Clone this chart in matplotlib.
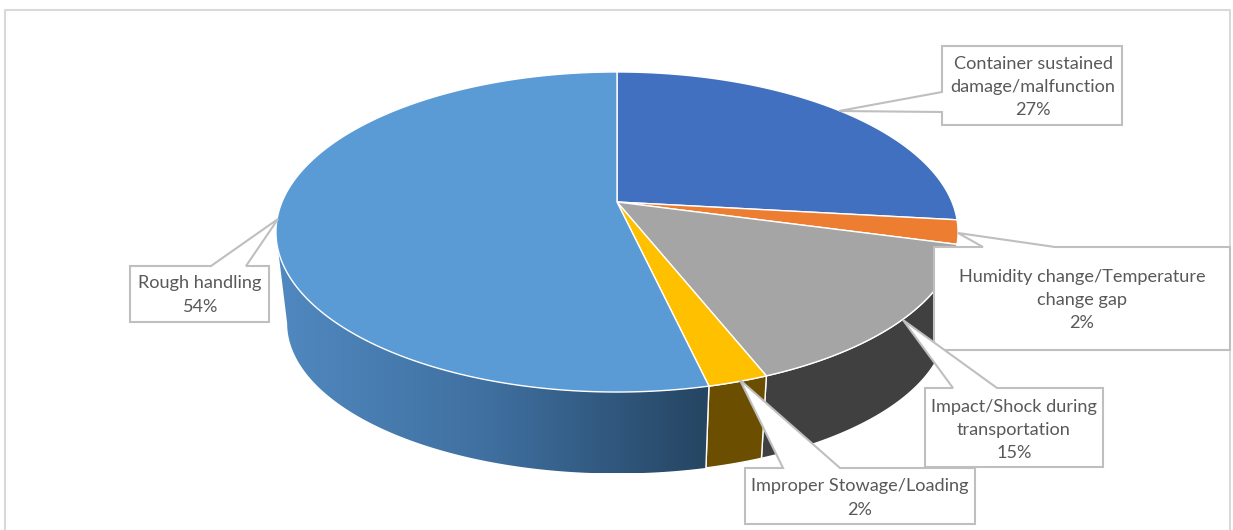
#!/usr/bin/env python3
# 3D looking pie chart with callout labels, drawn on a pixel sized axes
import numpy as np
import matplotlib
matplotlib.use("Agg")
import matplotlib.pyplot as plt
from matplotlib.colors import LinearSegmentedColormap
from matplotlib.patches import Polygon

# slices clockwise from 12 o'clock
slice_values = [26.8, 2.4, 14.8, 2.4, 53.6]
slice_labels = ["Container sustained\ndamage/malfunction\n27%",
                "Humidity change/Temperature\nchange gap\n2%",
                "Impact/Shock during\ntransportation\n15%",
                "Improper Stowage/Loading\n2%",
                "Rough handling\n54%"]
top_colors = ["#4270c0", "#ed7d31", "#a5a5a5", "#ffc000", "#5b9bd5"]
side_colors = [None, None, "#404040", "#6b4e00", None]

# callout outlines in pixels, same order as the labels
callouts = [[(942, 46), (1122, 46), (1122, 125), (942, 125), (942, 112), (839, 111), (942, 92)],
            [(934, 247), (983, 247), (958, 233), (1055, 247), (1230, 247), (1230, 350), (934, 350)],
            [(925, 388), (953, 388), (903, 320), (997, 388), (1103, 388), (1103, 467), (925, 467)],
            [(745, 468), (783, 468), (740, 380), (840, 468), (975, 468), (975, 524), (745, 524)],
            [(130, 266), (211, 266), (278, 219), (246, 266), (269, 266), (269, 322), (130, 322)]]
label_pos = [(1033, 87), (1082, 300), (1014, 430), (860, 498), (200, 295)]

# pie geometry, pixels. k is the perspective strength
cx, cy, a_top, b_top = 617, 202, 335, 154.4
cy_low, a_low, b_low = 295, 324, 145
k = 0.1875


def rim(frac, a, b, y0):
    ang = 2 * np.pi * np.asarray(frac)
    w = 1 + k * np.cos(ang)
    return cx + a * np.sin(ang) / w, y0 - b * np.cos(ang) / w


def wall(f0, f1):
    f = np.linspace(f0, f1, 200)
    xt, yt = rim(f, a_top, b_top, cy)
    xb, yb = rim(f, a_low, b_low, cy_low)
    return np.r_[xt, xb[::-1]], np.r_[yt, yb[::-1]]


fig = plt.figure(figsize=(12.33, 5.30), dpi=100)
ax = fig.add_axes([0, 0, 1, 1])
plt.rcParams['font.family'] = ['Lato', 'DejaVu Sans']

edges = np.r_[0, np.cumsum(slice_values)] / np.sum(slice_values)

# outer walls, only the ones facing the viewer
for i in range(len(slice_values)):
    if side_colors[i] is not None:
        x, y = wall(edges[i], edges[i + 1])
        ax.fill(x, y, facecolor=side_colors[i], edgecolor="white", lw=1, zorder=2)

# big slice wall has a left to right gradient, stops at the left tangent of the rim
x, y = wall(edges[4], 0.72)
clip = Polygon(np.c_[x, y], closed=True, transform=ax.transData, fc="none", ec="none")
ax.add_patch(clip)
shade = LinearSegmentedColormap.from_list("shade", ["#5089c0", "#3f6f9f", "#254562"])
grad = ax.imshow(np.linspace(0, 1, 256)[None, :], cmap=shade, aspect="auto", zorder=2,
                 extent=(x.min(), x.max(), y.max(), y.min()))
grad.set_clip_path(clip)
xa, ya = rim(edges[4], a_top, b_top, cy)
xb, yb = rim(edges[4], a_low, b_low, cy_low)
ax.plot([xa, xb], [ya, yb], color="white", lw=1, zorder=3)

# top face
for i in range(len(slice_values)):
    xr, yr = rim(np.linspace(edges[i], edges[i + 1], 300), a_top, b_top, cy)
    ax.fill(np.r_[cx, xr], np.r_[cy, yr], facecolor=top_colors[i], edgecolor="white", lw=1, zorder=4)

# callouts
for i, pts in enumerate(callouts):
    ax.add_patch(Polygon(pts, closed=True, fc="white", ec="#bfbfbf", lw=1.5, zorder=5 + i))
    ax.text(label_pos[i][0], label_pos[i][1], slice_labels[i], ha="center", va="center",
            color="#595959", fontsize=13.1, linespacing=1.56, zorder=5 + i)

# chart area frame, bottom side is cut off in the picture
ax.plot([5, 5, 1230, 1230], [530, 10, 10, 530], color="#d9d9d9", lw=1.5, zorder=1)

ax.set_xlim(0, 1233)
ax.set_ylim(530, 0)
ax.axis("off")
fig.savefig("out.png", dpi=100)
